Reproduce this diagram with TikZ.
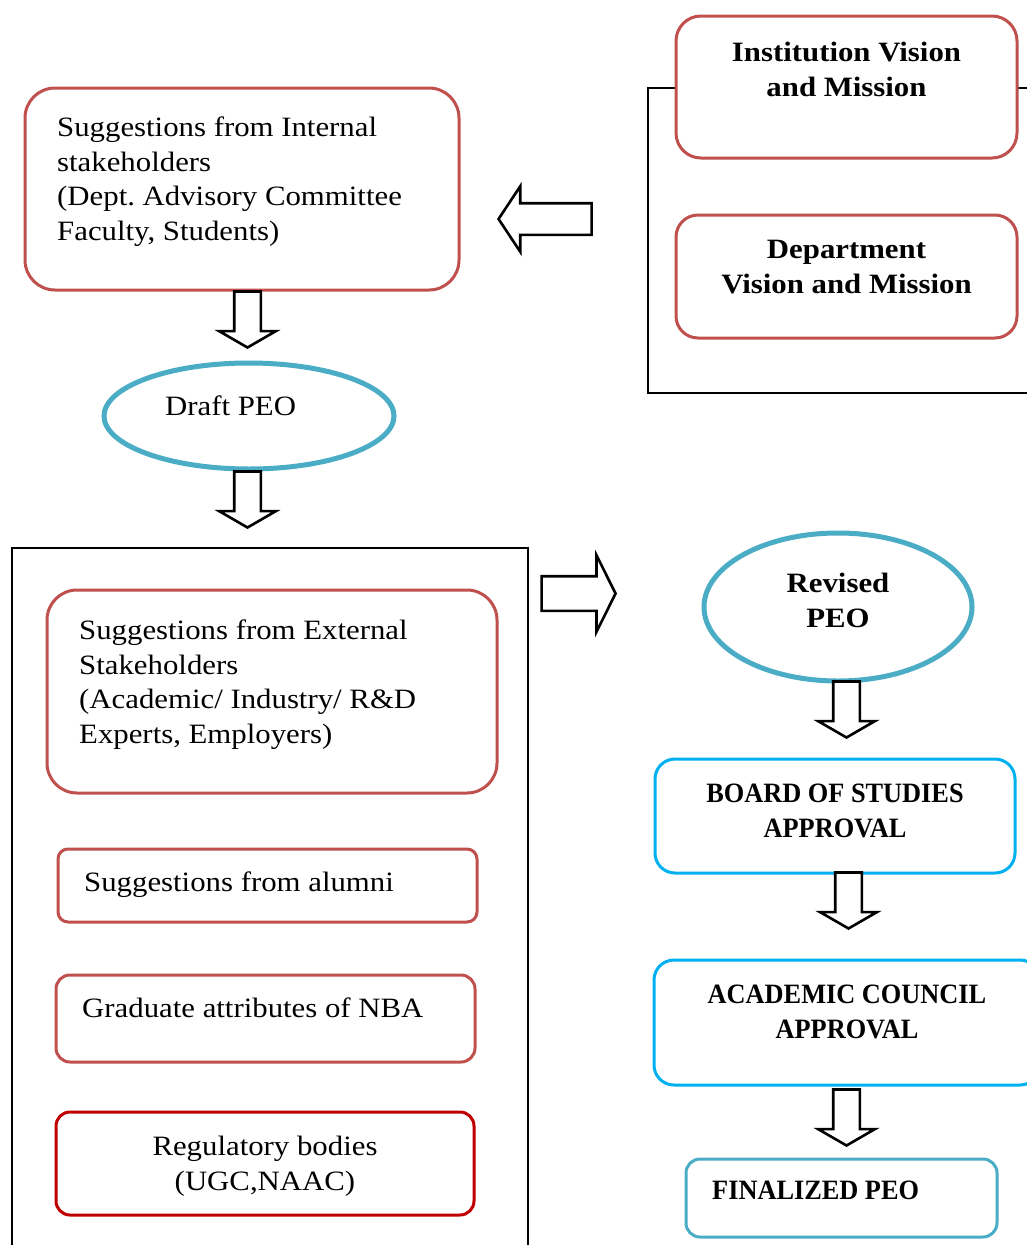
\documentclass[tikz,border=0pt]{standalone}
\usepackage{fontspec}
\setmainfont{Liberation Serif}[FakeStretch=1.1]
\newfontfamily\capsfont{Liberation Serif}[FakeStretch=0.94]
\usepackage{tikz}
\usetikzlibrary{shapes.geometric,shapes.arrows}
\frenchspacing

\definecolor{boxred}{HTML}{C0504D}
\definecolor{darkred}{HTML}{C00000}
\definecolor{peoblue}{HTML}{4BACC6}
\definecolor{skyblue}{HTML}{00B0F0}

\tikzset{
	frame/.style={draw=black, line width=1.3pt},
	roundbox/.style={fill=white, line width=3pt, inner sep=0pt, rounded corners=#1},
	roundbox/.default=20pt,
	redbox/.style={roundbox=#1, draw=boxred},
	redbox/.default=20pt,
	bluebox/.style={roundbox=#1, draw=skyblue},
	bluebox/.default=20pt,
	peo/.style={ellipse, draw=peoblue, line width=5pt, fill=white, inner sep=0pt},
	size/.style 2 args={minimum width=#1, minimum height=#2},
	bodytext/.style={inner sep=0pt, align=left, font=\fontsize{28}{34.5}\selectfont},
	headtext/.style={inner sep=0pt, align=center, font=\fontsize{28}{34.5}\selectfont\bfseries},
	capstext/.style={inner sep=0pt, align=center, font=\capsfont\fontsize{28}{34.5}\selectfont\bfseries},
	hollow/.style={single arrow, draw=black, line width=2.6pt, fill=white, single arrow head indent=0pt,
		inner xsep=0pt, anchor=tip},
	downarrow/.style={hollow, rotate=-90, minimum height=56pt, inner ysep=12pt,
		single arrow head extend=15pt, single arrow tip angle=120},
}

\begin{document}
\begin{tikzpicture}[x=1pt, y=-1pt]
	
	\useasboundingbox (0,0) rectangle (1027,1245);
	
	% frames
	\draw[frame] (648,88) rectangle (1045,393);
	\draw[frame] (12,548) rectangle (528,1275);
	
	% top row
	\node[redbox=30pt, size={434pt}{202pt}] (intbox) at (242,189) {};
	\node[bodytext, anchor=north west] (inttext) at (57,117)
		{Suggestions from Internal\\ stakeholders\\ (Dept. Advisory Committee\\ Faculty, Students)};
	
	\node[redbox=25pt, size={341pt}{142pt}] (instbox) at (846.5,87) {};
	\node[headtext, anchor=north] (insttext) at (846.5,42) {Institution Vision\\ and Mission};
	
	\node[redbox=22pt, size={341pt}{123pt}] (deptbox) at (846.5,276.5) {};
	\node[headtext, anchor=north] (depttext) at (846.5,240) {Department\\ Vision and Mission};
	
	\node[hollow, rotate=180, minimum height=93pt, inner ysep=14.5pt,
		single arrow head extend=17pt, single arrow tip angle=113] (larrow) at (497,219) {};
	
	% draft
	\node[downarrow] (darrow1) at (247.5,349) {};
	\node[peo, size={290pt}{106pt}] (draft) at (249,416) {};
	\node[bodytext, anchor=north west] (drafttext) at (165,396) {Draft PEO};
	\node[downarrow] (darrow2) at (247.5,529) {};
	
	% stakeholders
	\node[redbox=30pt, size={450pt}{203pt}] (extbox) at (272,691.5) {};
	\node[bodytext, anchor=north west] (exttext) at (79,620)
		{Suggestions from External\\ Stakeholders\\ (Academic/ Industry/ R\&D\\ Experts, Employers)};
	
	\node[redbox=10pt, size={419pt}{73pt}] (alumbox) at (267.5,885.5) {};
	\node[bodytext, anchor=north west] (alumtext) at (84,872) {Suggestions from alumni};
	
	\node[redbox=14pt, size={419pt}{87pt}] (gradbox) at (265.5,1018.5) {};
	\node[bodytext, anchor=north west] (gradtext) at (82,998) {Graduate attributes of NBA};
	
	\node[redbox=14pt, draw=darkred, size={418pt}{103pt}] (regbox) at (265,1163.5) {};
	\node[bodytext, align=center, anchor=north] (regtext) at (265,1136) {Regulatory bodies\\ (UGC,NAAC)};
	
	\node[hollow, minimum height=74pt, inner ysep=16pt,
		single arrow head extend=21pt, single arrow tip angle=127] (rarrow) at (617,593.5) {};
	
	% approval chain
	\node[peo, size={268pt}{148pt}] (revised) at (838,607) {};
	\node[headtext, anchor=north] (revtext) at (838,573) {Revised\\ PEO};
	\node[downarrow] (darrow3) at (846.5,739) {};
	
	\node[bluebox=20pt, size={360pt}{114pt}] (boardbox) at (835,816) {};
	\node[capstext, anchor=north] (boardtext) at (835,784) {BOARD OF STUDIES\\ APPROVAL};
	\node[downarrow] (darrow4) at (848.5,930) {};
	
	\node[bluebox=20pt, size={386pt}{125pt}] (acadbox) at (847,1022.5) {};
	\node[capstext, anchor=north] (acadtext) at (847,985) {ACADEMIC COUNCIL\\ APPROVAL};
	\node[downarrow] (darrow5) at (846.5,1147) {};
	
	\node[roundbox=14pt, draw=peoblue, size={311pt}{78pt}] (finalbox) at (841.5,1198) {};
	\node[capstext, anchor=north west] (finaltext) at (712,1181) {FINALIZED PEO};
	
\end{tikzpicture}
\end{document}
